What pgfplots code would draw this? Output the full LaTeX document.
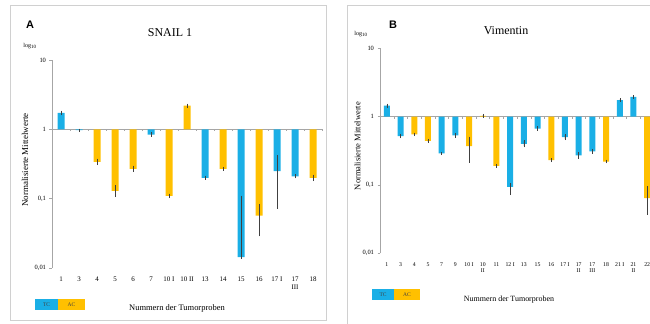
\documentclass[border=0pt]{standalone}
\usepackage{pgfplots}
\pgfplotsset{compat=1.18}
\usepackage{pgfplotstable}
\usepackage{fontspec}
\setmainfont{Liberation Serif}
\newfontfamily\arialfont{Liberation Sans}
\definecolor{tc}{HTML}{1AAFE6}
\definecolor{ac}{HTML}{FFC000}
\definecolor{framegray}{HTML}{D0D0D0}
\definecolor{axisgray}{HTML}{A6A6A6}
\definecolor{errc}{HTML}{404040}

% Panel A: SNAIL 1
\pgfplotstableread{
x y ep em
0 1.73 0.05 0.05
1 0.97 0.01 0.01
5 0.84 0.02 0.02
8 0.20 0.005 0.005
10 0.0143 0.091 0
12 0.25 0.16 0.175
13 0.21 0.005 0.005
}\snailTC
\pgfplotstableread{
x y ep em
2 0.34 0.02 0.02
3 0.13 0.02 0.02
4 0.27 0.015 0.015
6 0.11 0.003 0.003
7 2.19 0.05 0.05
9 0.27 0.005 0.005
11 0.057 0.023 0.027
14 0.20 0.012 0.012
}\snailAC
% Panel B: Vimentin
\pgfplotstableread{
x y ep em
0 1.45 0.04 0.04
1 0.52 0.02 0.02
4 0.29 0.005 0.005
5 0.53 0.02 0.02
9 0.094 0.008 0.02
10 0.40 0.03 0.03
11 0.67 0.02 0.02
13 0.50 0.03 0.03
14 0.27 0.02 0.02
15 0.31 0.01 0.01
17 1.75 0.04 0.04
18 1.95 0.04 0.04
}\vimTC
\pgfplotstableread{
x y ep em
2 0.55 0.01 0.01
3 0.44 0.01 0.01
6 0.37 0.12 0.15
7 1.03 0.02 0.02
8 0.19 0.005 0.005
12 0.23 0.005 0.005
16 0.22 0.005 0.005
19 0.064 0.028 0.026
}\vimAC

\begin{document}
\begin{tikzpicture}
\useasboundingbox (0,0) rectangle (650bp,324bp);
\clip (0,0) rectangle (650bp,324bp);
% frames
\draw[framegray, line width=0.8pt] (10bp,4bp) rectangle (326bp,319bp);
\draw[framegray, line width=0.8pt] (347bp,-10bp) rectangle (700bp,319bp);

% ---------- Panel A ----------
\begin{axis}[at={(52bp,56bp)}, anchor=south west,
  scale only axis, ymode=log, ymin=0.01, ymax=10,
  axis y line*=left, axis x line*=bottom,
  x axis line style={draw=none},
  y axis line style={axisgray, line width=0.6pt},
  ytick={0.01,0.1,1,10}, yticklabels={{0,01},{0,1},1,10},
  yminorticks=false, xminorticks=false,
  tick align=outside, major tick length=2.5bp,
  ytick style={axisgray, line width=0.5pt},
  xtick style={draw=none},
  ybar, bar shift=0pt, clip=false,
  width=270bp, height=208bp, xmin=-0.5, xmax=14.5, bar width=7bp,
  xtick={0,...,14},
  xticklabels={1,3,4,5,6,7,10 I,10 II,13,14,15,16,17 I,{17\\III},18},
  xticklabel style={align=center, anchor=north, yshift=-3bp, font=\fontsize{7}{7.5}\selectfont},
  yticklabel style={font=\fontsize{6.5}{7}\selectfont},
]
\draw[axisgray, line width=0.6pt] (axis cs:-0.5,1) -- (axis cs:14.5,1);
\pgfplotsinvokeforeach{0.5,1.5,...,14.5}{\draw[axisgray, line width=0.4pt] (axis cs:#1,1) -- ([yshift=-2bp]axis cs:#1,1);}
\addplot[fill=tc, draw=none, error bars/.cd, y dir=both, y explicit,
    error bar style={errc, line width=0.5pt},
    error mark options={errc, mark size=1.4pt, line width=0.5pt}]
  table[x=x, y=y, y error plus=ep, y error minus=em] {\snailTC};
\addplot[fill=ac, draw=none, error bars/.cd, y dir=both, y explicit,
    error bar style={errc, line width=0.5pt},
    error mark options={errc, mark size=1.4pt, line width=0.5pt}]
  table[x=x, y=y, y error plus=ep, y error minus=em] {\snailAC};
\end{axis}
\node[font=\arialfont\bfseries\fontsize{11}{12}\selectfont] at (30bp,299bp) {A};
\node[font=\fontsize{12}{13}\selectfont] at (170bp,291bp) {SNAIL 1};
\node[font=\fontsize{6}{7}\selectfont] at (30bp,278bp) {log\textsubscript{10}};
\node[rotate=90, font=\fontsize{9}{10}\selectfont] at (25bp,164bp) {Normalisierte Mittelwerte};
\node[font=\fontsize{8.5}{9}\selectfont] at (177bp,16bp) {Nummern der Tumorproben};
\node[fill=tc, minimum width=23bp, minimum height=11bp, inner sep=0pt, font=\fontsize{5.5}{6}\selectfont, text=black!75] at (46.5bp,19.5bp) {TC};
\node[fill=ac, minimum width=27bp, minimum height=11bp, inner sep=0pt, font=\fontsize{5.5}{6}\selectfont, text=black!75] at (71.5bp,19.5bp) {AC};

% ---------- Panel B ----------
\begin{axis}[at={(380bp,70.7bp)}, anchor=south west,
  scale only axis, ymode=log, ymin=0.01, ymax=10,
  axis y line*=left, axis x line*=bottom,
  x axis line style={draw=none},
  y axis line style={axisgray, line width=0.6pt},
  ytick={0.01,0.1,1,10}, yticklabels={{0,01},{0,1},1,10},
  yminorticks=false, xminorticks=false,
  tick align=outside, major tick length=2.5bp,
  ytick style={axisgray, line width=0.5pt},
  xtick style={draw=none},
  ybar, bar shift=0pt, clip=false,
  width=274bp, height=205bp, xmin=-0.5, xmax=19.5, bar width=6bp,
  xtick={0,...,19},
  xticklabels={1,3,4,5,7,9,10 I,{10\\II},11,12 I,13,15,16,17 I,{17\\II},{17\\III},18,21 I,{21\\II},22},
  xticklabel style={align=center, anchor=north, yshift=-3bp, font=\fontsize{5.8}{6.5}\selectfont},
  yticklabel style={font=\fontsize{6.5}{7}\selectfont},
]
\draw[axisgray, line width=0.6pt] (axis cs:-0.5,1) -- (axis cs:19.5,1);
\pgfplotsinvokeforeach{0.5,1.5,...,19.5}{\draw[axisgray, line width=0.4pt] (axis cs:#1,1) -- ([yshift=-2bp]axis cs:#1,1);}
\addplot[fill=tc, draw=none, error bars/.cd, y dir=both, y explicit,
    error bar style={errc, line width=0.5pt},
    error mark options={errc, mark size=1.2pt, line width=0.5pt}]
  table[x=x, y=y, y error plus=ep, y error minus=em] {\vimTC};
\addplot[fill=ac, draw=none, error bars/.cd, y dir=both, y explicit,
    error bar style={errc, line width=0.5pt},
    error mark options={errc, mark size=1.2pt, line width=0.5pt}]
  table[x=x, y=y, y error plus=ep, y error minus=em] {\vimAC};
\end{axis}
\node[font=\arialfont\bfseries\fontsize{11}{12}\selectfont] at (393bp,299bp) {B};
\node[font=\fontsize{12}{13}\selectfont] at (506bp,293bp) {Vimentin};
\node[font=\fontsize{6}{7}\selectfont] at (361bp,290bp) {log\textsubscript{10}};
\node[rotate=90, font=\fontsize{8.5}{9}\selectfont] at (357.5bp,178bp) {Normalisierte Mittelwerte};
\node[font=\fontsize{8}{9}\selectfont] at (509bp,24bp) {Nummern der Tumorproben};
\node[fill=tc, minimum width=22bp, minimum height=11bp, inner sep=0pt, font=\fontsize{5.5}{6}\selectfont, text=black!75] at (383bp,29.5bp) {TC};
\node[fill=ac, minimum width=26bp, minimum height=11bp, inner sep=0pt, font=\fontsize{5.5}{6}\selectfont, text=black!75] at (407bp,29.5bp) {AC};
\end{tikzpicture}
\end{document}
